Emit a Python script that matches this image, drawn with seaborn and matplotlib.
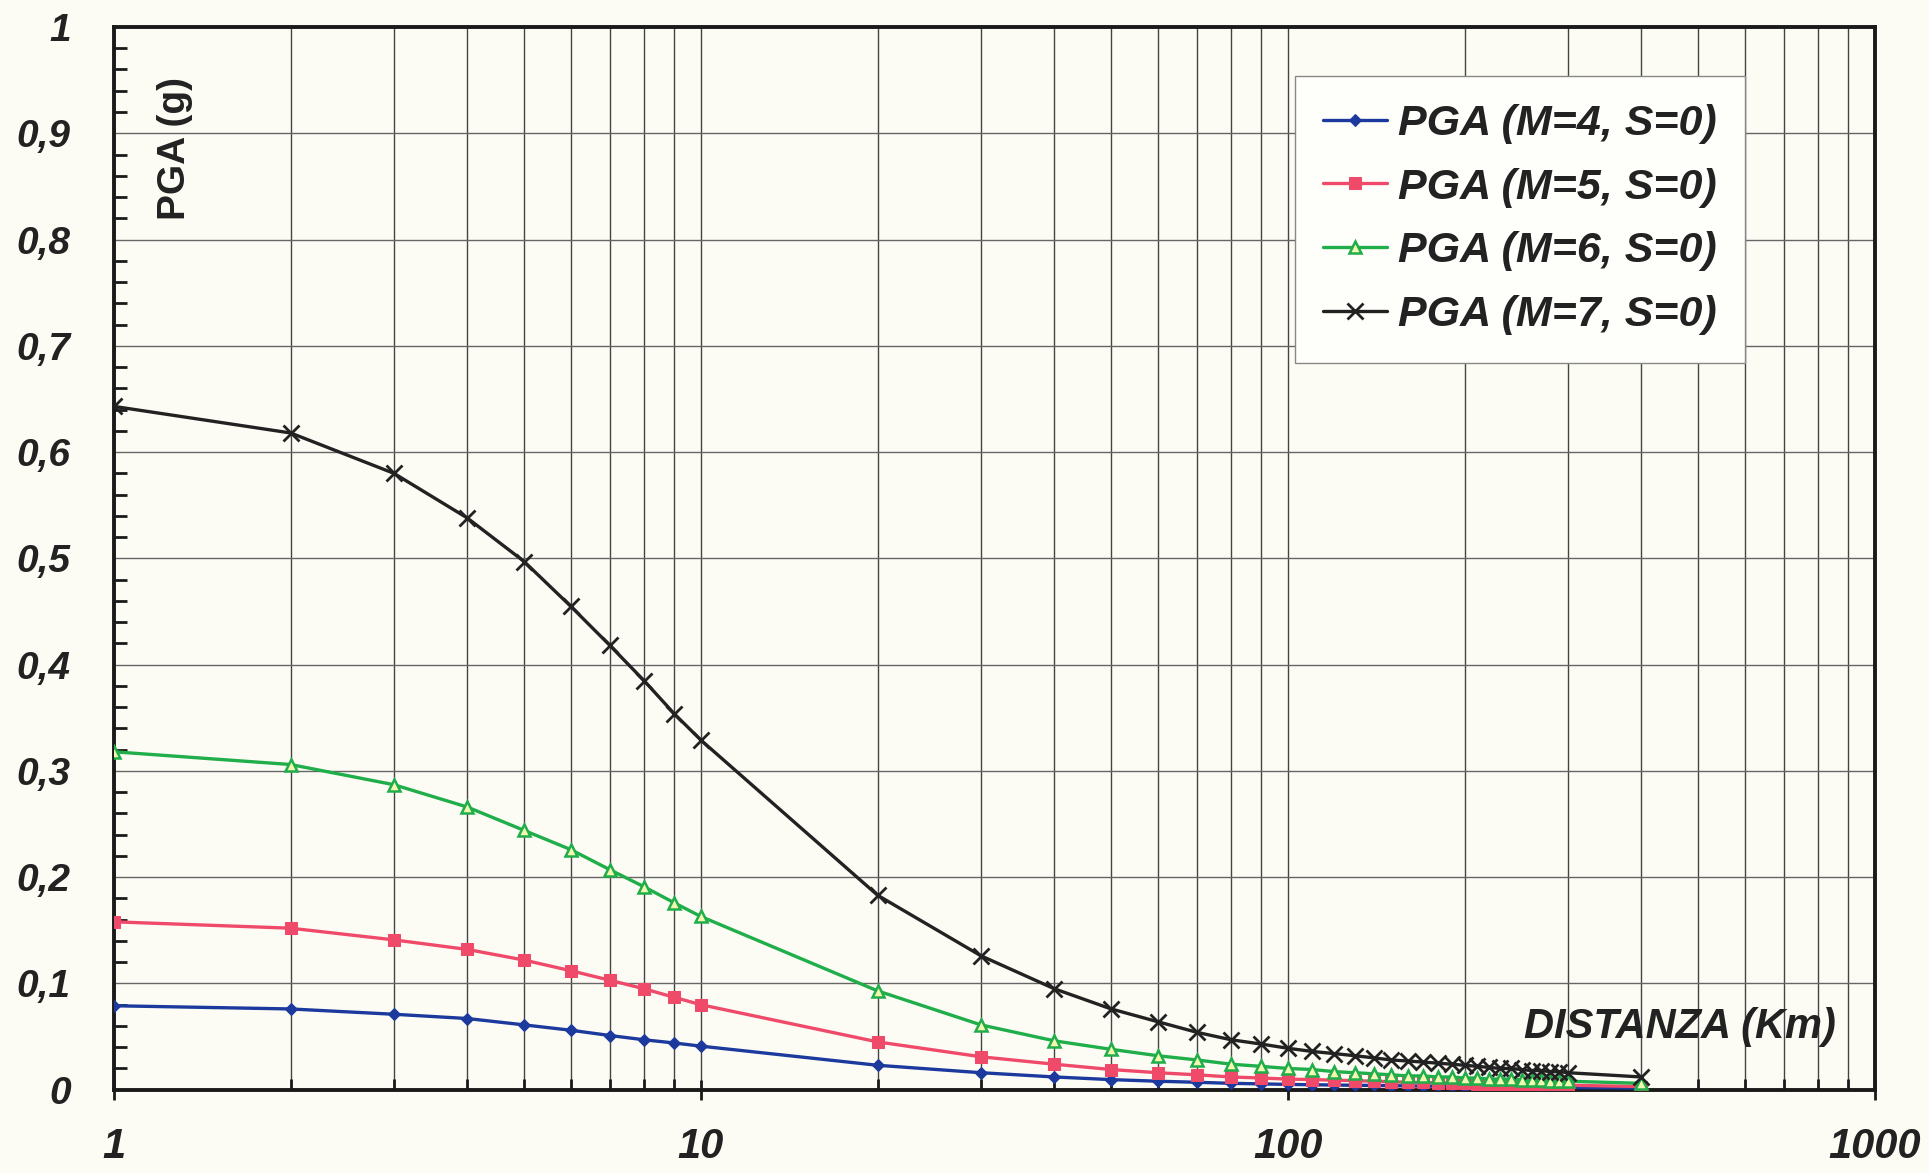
import numpy as np
import pandas as pd
import matplotlib
matplotlib.use("Agg")
import matplotlib.pyplot as plt
import seaborn as sns
from matplotlib.ticker import FixedLocator, NullFormatter, MultipleLocator

distances = [1, 2, 3, 4, 5, 6, 7, 8, 9, 10,
             20, 30, 40, 50, 60, 70, 80, 90, 100,
             110, 120, 130, 140, 150, 160, 170, 180, 190, 200,
             210, 220, 230, 240, 250, 260, 270, 280, 290, 300, 400]

pga_m4 = [0.079, 0.076, 0.071, 0.067, 0.061, 0.056, 0.051, 0.047, 0.044, 0.041,
          0.023, 0.016, 0.012, 0.0095, 0.008, 0.007, 0.006, 0.0055, 0.005,
          0.0047, 0.0044, 0.0042, 0.004, 0.0038, 0.0036, 0.0034, 0.0033, 0.0031, 0.003,
          0.0029, 0.0028, 0.0027, 0.0026, 0.0025, 0.0024, 0.0023, 0.0023, 0.0022, 0.0021, 0.0016]

pga_m5 = [0.158, 0.152, 0.141, 0.132, 0.122, 0.112, 0.103, 0.095, 0.087, 0.080,
          0.045, 0.031, 0.024, 0.019, 0.016, 0.014, 0.012, 0.011, 0.010,
          0.0095, 0.009, 0.0085, 0.008, 0.0075, 0.007, 0.0068, 0.0065, 0.0062, 0.006,
          0.0057, 0.0055, 0.0053, 0.0051, 0.005, 0.0048, 0.0046, 0.0045, 0.0043, 0.0042, 0.003]

pga_m6 = [0.318, 0.306, 0.287, 0.266, 0.244, 0.226, 0.207, 0.191, 0.176, 0.163,
          0.093, 0.061, 0.046, 0.038, 0.032, 0.028, 0.024, 0.022, 0.020,
          0.019, 0.017, 0.016, 0.015, 0.014, 0.013, 0.013, 0.012, 0.012, 0.011,
          0.011, 0.010, 0.010, 0.010, 0.009, 0.009, 0.009, 0.008, 0.008, 0.008, 0.006]

pga_m7 = [0.643, 0.618, 0.580, 0.538, 0.497, 0.455, 0.418, 0.385, 0.354, 0.329,
          0.183, 0.126, 0.095, 0.076, 0.064, 0.054, 0.047, 0.043, 0.039,
          0.036, 0.034, 0.032, 0.030, 0.028, 0.027, 0.026, 0.025, 0.024, 0.023,
          0.022, 0.021, 0.020, 0.020, 0.019, 0.018, 0.018, 0.017, 0.017, 0.016, 0.012]

series_labels = ["PGA (M=4, S=0)", "PGA (M=5, S=0)", "PGA (M=6, S=0)", "PGA (M=7, S=0)"]
x_tick_values = [1, 10, 100, 1000]
x_tick_labels = ["1", "10", "100", "1000"]
y_tick_values = [0, 0.1, 0.2, 0.3, 0.4, 0.5, 0.6, 0.7, 0.8, 0.9, 1.0]
y_tick_labels = ["0", "0,1", "0,2", "0,3", "0,4", "0,5", "0,6", "0,7", "0,8", "0,9", "1"]

sns.set_theme(style="white")
plt.rcParams["font.family"] = ["Liberation Sans", "DejaVu Sans"]

bg = "#fdfcf4"
fig = plt.figure(figsize=(19.29, 11.73), dpi=100, facecolor=bg)
ax = fig.add_axes([0.059, 0.071, 0.913, 0.906])
ax.set_facecolor(bg)

styles = [
    dict(color="#1c3a9e", marker="D", markersize=6, markerfacecolor="#1c3a9e", markeredgecolor="#1c3a9e"),
    dict(color="#f04a6a", marker="s", markersize=9, markerfacecolor="#f04a6a", markeredgecolor="#f04a6a"),
    dict(color="#1fae4a", marker="^", markersize=8, markerfacecolor="#f4f7b0", markeredgecolor="#1fae4a", markeredgewidth=1.8),
    dict(color="#222222", marker="x", markersize=12, markeredgecolor="#222222", markeredgewidth=2.0),
]
all_series = [pga_m4, pga_m5, pga_m6, pga_m7]
for vals, lab, st in zip(all_series, series_labels, styles):
    df = pd.DataFrame({"dist": distances, "pga": vals})
    sns.lineplot(data=df, x="dist", y="pga", ax=ax, label=lab, linewidth=2.4, zorder=5, **st)

ax.set_xscale("log")
ax.set_xlim(1, 1000)
ax.set_ylim(0, 1)

ax.set_xticks(x_tick_values)
ax.set_xticklabels(x_tick_labels)
minor_x = [m * 10 ** d for d in range(3) for m in range(2, 10)]
ax.xaxis.set_minor_locator(FixedLocator(minor_x))
ax.xaxis.set_minor_formatter(NullFormatter())
ax.set_yticks(y_tick_values)
ax.set_yticklabels(y_tick_labels)
ax.yaxis.set_minor_locator(MultipleLocator(0.02))

ax.grid(True, which="both", axis="x", color="#444444", linewidth=1.0)
ax.grid(True, which="major", axis="y", color="#666666", linewidth=1.0)
ax.set_axisbelow(True)

for s in ax.spines.values():
    s.set_color("#1a1a1a")
    s.set_linewidth(2.8)

ax.tick_params(axis="y", which="major", direction="out", length=14, width=2, colors="#1a1a1a", pad=17)
ax.tick_params(axis="y", which="minor", direction="in", length=9, width=2, colors="#1a1a1a", left=True)
ax.tick_params(axis="x", which="major", direction="inout", length=14, width=2, colors="#1a1a1a", pad=20, bottom=True)
ax.tick_params(axis="x", which="minor", direction="in", length=8, width=2, colors="#1a1a1a", bottom=True)

for lbl in ax.get_yticklabels():
    lbl.set_fontsize(28)
    lbl.set_fontweight("bold")
    lbl.set_fontstyle("italic")
    lbl.set_color("#222222")
for lbl in ax.get_xticklabels():
    lbl.set_fontsize(30)
    lbl.set_fontweight("bold")
    lbl.set_fontstyle("italic")
    lbl.set_color("#222222")

ax.set_xlabel("")
ax.set_ylabel("")
ax.text(0.035, 0.886, "PGA (g)", transform=ax.transAxes, rotation=90, ha="center", va="center",
        fontsize=28, fontweight="bold", color="#222222")
ax.text(0.978, 0.059, "DISTANZA (Km)", transform=ax.transAxes, ha="right", va="center",
        fontsize=30, fontweight="bold", fontstyle="italic", color="#222222")

leg = ax.legend(loc="upper right", bbox_to_anchor=(0.926, 0.954), borderaxespad=0, frameon=True, fancybox=False,
                prop={"size": 31, "weight": "bold", "style": "italic"}, handlelength=1.5,
                handletextpad=0.25, labelspacing=0.55, borderpad=0.65)
leg.get_frame().set_edgecolor("#888888")
leg.get_frame().set_facecolor("#fefefa")
leg.get_frame().set_alpha(1)
for t in leg.get_texts():
    t.set_color("#222222")

fig.savefig("out.png", dpi=100, facecolor=bg)
